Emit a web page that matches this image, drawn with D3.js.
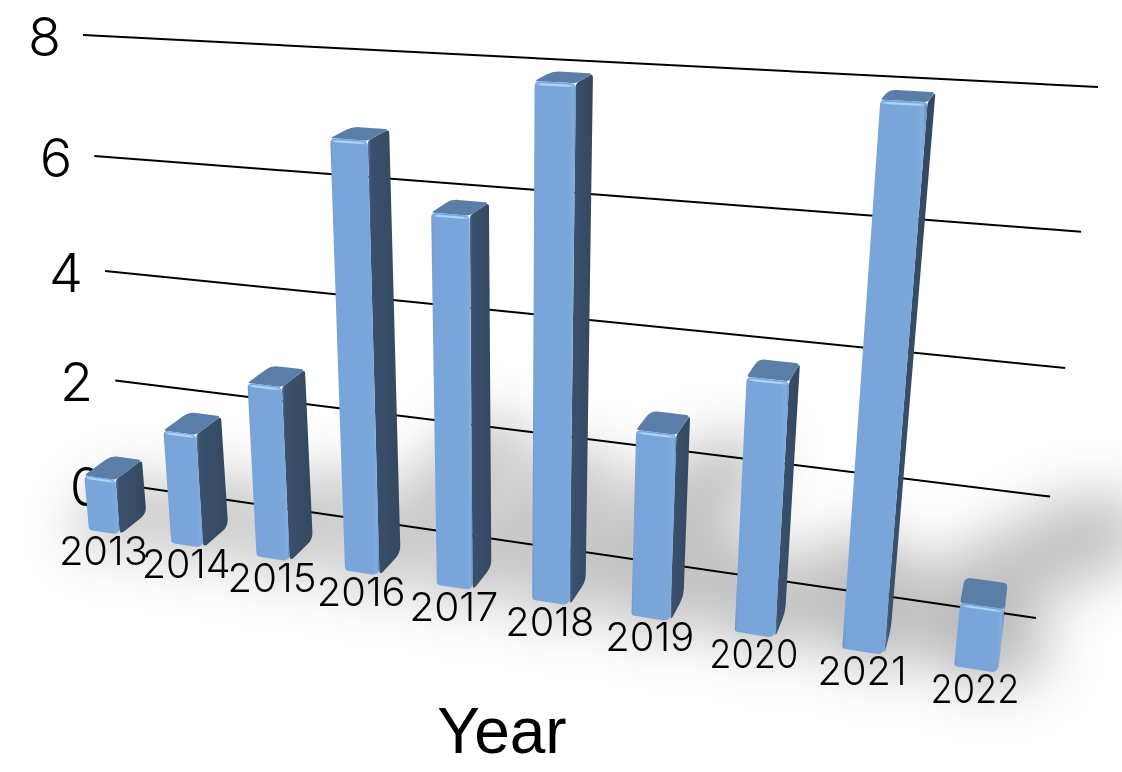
<!DOCTYPE html>
<html><head><meta charset="utf-8">
<script src="https://cdn.jsdelivr.net/npm/d3@7"></script>
<style>html,body{margin:0;padding:0;background:#fff}svg{display:block}text{font-family:"Liberation Sans",Arial,sans-serif;fill:#000}.lite{font-family:Inter,"Liberation Sans",sans-serif;font-weight:400}</style>
</head><body><svg id="c" width="1122" height="772"></svg>
<script>
const years = ["2013","2014","2015","2016","2017","2018","2019","2020","2021","2022"];
const values = [1,2,3,7,6,8,3,4,8,1];
const yTicks = [0,2,4,6,8];
const axisTitle = "Year";

// perspective planes: [top-left, top-right, bottom-right, bottom-left] on screen
function homography(q){
  const [[x0,y0],[x1,y1],[x2,y2],[x3,y3]]=q;
  const dx1=x1-x2,dx2=x3-x2,sx=x0-x1+x2-x3,dy1=y1-y2,dy2=y3-y2,sy=y0-y1+y2-y3;
  const den=dx1*dy2-dx2*dy1, g=(sx*dy2-dx2*sy)/den, h=(dx1*sy-sx*dy1)/den;
  const a=x1-x0+g*x1,b=x3-x0+h*x3,d=y1-y0+g*y1,e=y3-y0+h*y3;
  return (u,t)=>{const w=g*u+h*t+1;return [(a*u+b*t+x0)/w,(d*u+e*t+y0)/w];};
}
const wall  = homography([[83,35],[1098,87],[1036,618],[125,485]]);
const front = homography([[48,55],[1056,109],[998,673],[89,530]]);
const back  = homography([[75,45],[1060,99],[1001,645],[116,509]]);

const x = d3.scaleBand().domain(years).range([0,1]).paddingInner(0.62).paddingOuter(0);
const y = d3.scaleLinear().domain([0,8]).range([1,0]);
const svg = d3.select("#c");
const defs = svg.append("defs");

const f1=defs.append("filter").attr("id","blurS").attr("filterUnits","userSpaceOnUse").attr("x",-100).attr("y",200).attr("width",1400).attr("height",700);
f1.append("feGaussianBlur").attr("stdDeviation",27);

function grad(id,stops){
  const g=defs.append("linearGradient").attr("id",id).attr("x1",0).attr("x2",1).attr("y1",0).attr("y2",0);
  stops.forEach(([o,c,a])=>g.append("stop").attr("offset",o).attr("stop-color",c).attr("stop-opacity",a===undefined?1:a));
}
grad("gFront",[[0,"#6a98cf"],[0.05,"#78a4d9"],[0.5,"#79a5da"],[0.86,"#7aa6da"],[0.95,"#84ade0"],[1,"#5f89bc"]]);
grad("gSide",[[0,"#587aa3"],[0.1,"#3a506d"],[1,"#34485f"]]);
grad("gHi",[[0,"#a8d6ff",0],[0.18,"#a8d6ff",1],[0.8,"#a8d6ff",1],[1,"#a8d6ff",0]]);

function rounded(pts,rs){
  const p=d3.path(),n=pts.length;
  const toward=(a,b,r)=>{const L=Math.hypot(b[0]-a[0],b[1]-a[1])||1,k=Math.min(r,0.45*L)/L;return [a[0]+(b[0]-a[0])*k,a[1]+(b[1]-a[1])*k];};
  pts.forEach((c,i)=>{
    const pr=pts[(i+n-1)%n],nx=pts[(i+1)%n],s=toward(c,pr,rs[i]),e=toward(c,nx,rs[i]);
    if(i===0)p.moveTo(s[0],s[1]);else p.lineTo(s[0],s[1]);
    p.quadraticCurveTo(c[0],c[1],e[0],e[1]);
  });
  p.closePath();
  return p.toString();
}

// floor shadows, length follows the value
const light=[-220,1147];
const shadowG=svg.append("g").attr("filter","url(#blurS)");
years.forEach((yr,i)=>{
  const uL=x(yr),uR=uL+x.bandwidth(),k=0.027*values[i];
  const a=front(uL,1),b=front(uR,1),c=back(uR,1),dd=back(uL,1);
  const ext=q=>[q[0]+(q[0]-light[0])*k,q[1]+(q[1]-light[1])*k];
  const hull=d3.polygonHull([a,b,ext(b),ext(c),ext(dd),dd]);
  shadowG.append("path").attr("d","M"+hull.join("L")+"Z").attr("fill","#000").attr("stroke","#000")
    .attr("stroke-width",34).attr("stroke-linejoin","round").attr("opacity",0.23);
});

// gridlines
svg.append("g").selectAll("line").data(yTicks).join("line")
  .attr("x1",d=>wall(0,y(d))[0]).attr("y1",d=>wall(0,y(d))[1])
  .attr("x2",d=>wall(1,y(d))[0]).attr("y2",d=>wall(1,y(d))[1])
  .attr("stroke","#000").attr("stroke-width",2);

// value ticks
svg.append("g").selectAll("text").data(yTicks).join("text").attr("class","lite").style("font-weight",300)
  .attr("x",d=>wall(0,y(d))[0]-22).attr("y",d=>wall(0,y(d))[1]+21)
  .attr("text-anchor","end").attr("font-size",54).text(d=>d);

// bars
const bars=svg.append("g").selectAll("g").data(years.map((yr,i)=>({yr,v:values[i]}))).join("g");
bars.each(function(d){
  const g=d3.select(this),uL=x(d.yr),uR=uL+x.bandwidth(),t=y(d.v),b0=y(0);
  const fTL=front(uL,t),fTR=front(uR,t),fBR=front(uR,b0),fBL=front(uL,b0);
  const bTL=back(uL,t),bTR=back(uR,t),bBR=back(uR,b0);
  g.append("path").attr("d",rounded([fTR,bTR,bBR,fBR],[3,4,7,6])).attr("fill","url(#gSide)");
  g.append("path").attr("d",rounded([fTL,bTL,bTR,fTR],[3,7,4,3])).attr("fill","#5b7ea9");
  g.append("path").attr("d",rounded([fTL,fTR,fBR,fBL],[5,5,8,3])).attr("fill","url(#gFront)");
  const h=0.005, a=front(uL,t+h), c=front(uR,t+h);
  g.append("line").attr("x1",a[0]).attr("y1",a[1]).attr("x2",c[0]).attr("y2",c[1])
    .attr("stroke","url(#gHi)").attr("stroke-width",2.2);
});

// category labels
svg.append("g").selectAll("text").data(years).join("text").attr("class","lite").style("font-weight",300)
  .attr("x",d=>front(x(d)+x.bandwidth()/2,1)[0]-1).attr("y",d=>front(x(d)+x.bandwidth()/2,1)[1]+33)
  .attr("text-anchor","middle").attr("font-size",39).attr("textLength",89).attr("lengthAdjust","spacingAndGlyphs").text(d=>d);

svg.append("text").attr("x",502).attr("y",753).attr("text-anchor","middle").attr("font-size",64).text(axisTitle);
</script></body></html>
